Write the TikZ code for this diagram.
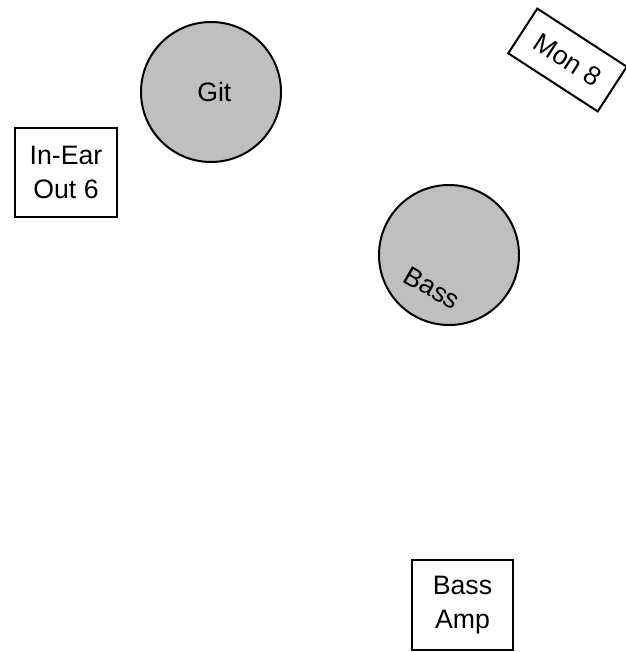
\documentclass[tikz,border=0pt]{standalone}
\usepackage{fontspec}
\setmainfont{Liberation Sans}
\usetikzlibrary{positioning}

\begin{document}
\begin{tikzpicture}[
    x=0.75pt, y=-0.75pt,
    instrument/.style={circle, minimum size=105pt, inner sep=0pt, draw=black, line width=1.5pt, fill=black!25, font=\fontsize{20}{25}\selectfont},
    speaker/.style={rectangle, inner sep=0pt, text centered, align=center, draw=black, line width=1.5pt, fill=white, font=\fontsize{20}{25}\selectfont},
    tag/.style={inner sep=0pt, font=\fontsize{20}{25}\selectfont}
]
\useasboundingbox (0,0) rectangle (625,652);

% Instruments
\node[instrument] (git) at (211,92) {\hspace*{5pt}Git};
\node[instrument] (bass) at (449,255) {};
\node[tag, rotate=-30] (basslabel) at (432,288) {Bass};

% Monitors
\node[speaker, minimum width=76.5pt, minimum height=66.75pt] (inear) at (66,172.5) {In-Ear\\Out 6};
\node[speaker, minimum width=80pt, minimum height=40pt, rotate=-33] (mon) at (567.5,60) {Mon 8};

% Amps
\node[speaker, minimum width=75.75pt, minimum height=68pt] (amp) at (462.5,605) {Bass\\Amp};

\end{tikzpicture}
\end{document}
